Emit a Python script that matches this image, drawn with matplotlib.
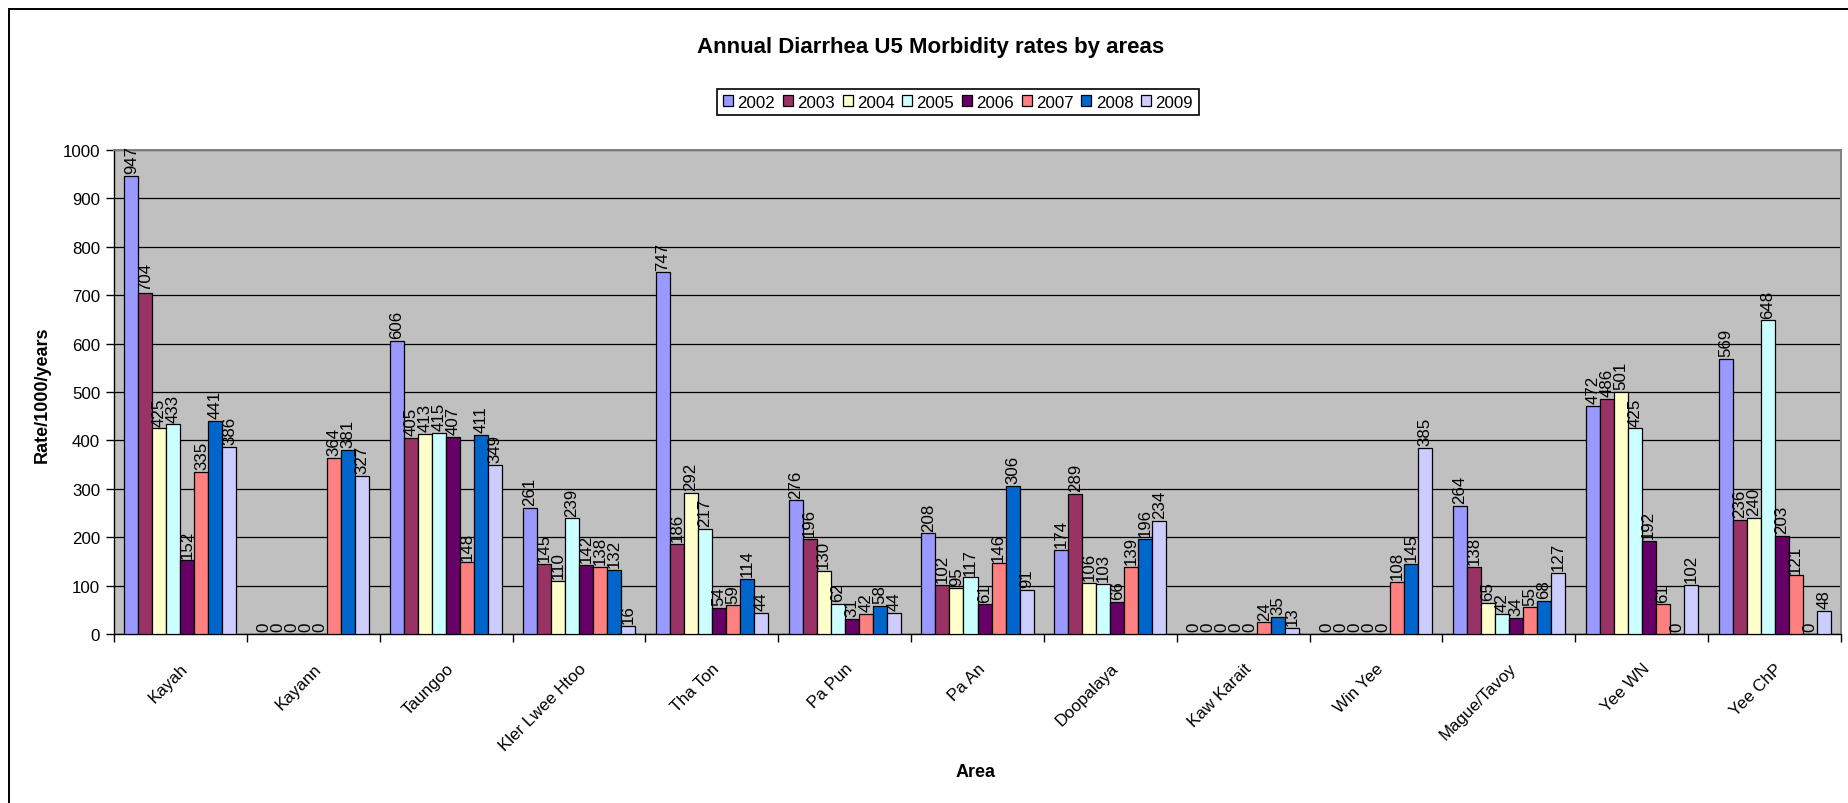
import matplotlib
matplotlib.use("Agg")
import matplotlib.pyplot as plt
from matplotlib.lines import Line2D
from matplotlib.patches import Patch
import numpy as np

plt.rcParams['font.family'] = ['Liberation Sans', 'DejaVu Sans']

areas = ["Kayah", "Kayann", "Taungoo", "Kler Lwee Htoo", "Tha Ton", "Pa Pun",
         "Pa An", "Doopalaya", "Kaw Karait", "Win Yee", "Mague/Tavoy",
         "Yee WN", "Yee ChP"]
years = ["2002", "2003", "2004", "2005", "2006", "2007", "2008", "2009"]

y2002 = [947, 0, 606, 261, 747, 276, 208, 174, 0, 0, 264, 472, 569]
y2003 = [704, 0, 405, 145, 186, 196, 102, 289, 0, 0, 138, 486, 236]
y2004 = [425, 0, 413, 110, 292, 130, 95, 106, 0, 0, 65, 501, 240]
y2005 = [433, 0, 415, 239, 217, 62, 117, 103, 0, 0, 42, 425, 648]
y2006 = [152, 0, 407, 142, 54, 31, 61, 66, 0, 0, 34, 192, 203]
y2007 = [335, 364, 148, 138, 59, 42, 146, 139, 24, 108, 55, 61, 121]
y2008 = [441, 381, 411, 132, 114, 58, 306, 196, 35, 145, 68, 0, 0]
y2009 = [386, 327, 349, 16, 44, 44, 91, 234, 13, 385, 127, 102, 48]

series = [y2002, y2003, y2004, y2005, y2006, y2007, y2008, y2009]
colors = ["#9999FF", "#993366", "#FFFFCC", "#CCFFFF",
          "#660066", "#FF8080", "#0066CC", "#CCCCFF"]

W, H = 1849, 804
fig = plt.figure(figsize=(W / 100, H / 100), dpi=100)

# outer chart frame (left and top edges)
fig.add_artist(Line2D([9.5 / W, 9.5 / W], [0, 1 - 9.5 / H], color="black", lw=1.4))
fig.add_artist(Line2D([9.5 / W, 1], [1 - 9.5 / H, 1 - 9.5 / H], color="black", lw=1.4))

left, right, top, bottom = 114, 1841, 151, 635
ax = fig.add_axes([left / W, 1 - bottom / H, (right - left) / W, (bottom - top) / H])
ax.set_facecolor("#C0C0C0")

x = np.arange(len(areas))
bw = 0.1055
for j, (vals, col) in enumerate(zip(series, colors)):
    pos = x + (j - 3.5) * bw
    ax.bar(pos, vals, width=bw, color=col, edgecolor="black", linewidth=0.9, zorder=3)
    for p, v in zip(pos, vals):
        ax.annotate(str(v), (p, v), xytext=(0, 2), textcoords="offset points",
                    rotation=90, ha="center", va="bottom", fontsize=12.2, zorder=4)

ax.set_xlim(-0.5, len(areas) - 0.5)
ax.set_ylim(0, 1000)
ax.set_yticks(np.arange(0, 1001, 100))
ax.yaxis.grid(True, color="black", lw=0.9, zorder=1)
ax.set_axisbelow(True)
ax.tick_params(axis="y", labelsize=12.2, length=6, width=1, direction="out", pad=4)

ax.set_xticks(x)
ax.set_xticklabels(areas, rotation=45, ha="right", va="top", rotation_mode="anchor",
                   fontsize=12.2)
ax.tick_params(axis="x", length=0, pad=19)
ax.set_xticks(np.arange(0, len(areas) + 1) - 0.5, minor=True)
ax.tick_params(axis="x", which="minor", length=6, width=1, direction="out")

for s in ("top", "right"):
    ax.spines[s].set_color("#808080")
    ax.spines[s].set_linewidth(1.4)
for s in ("left", "bottom"):
    ax.spines[s].set_color("black")
    ax.spines[s].set_linewidth(1.0)

fig.text(931 / W, 1 - 47 / H, "Annual Diarrhea U5 Morbidity rates by areas",
         ha="center", va="center", fontsize=16, fontweight="bold")
fig.text(42 / W, 1 - 395 / H, "Rate/1000/years", rotation=90, ha="center", va="center",
         fontsize=13, fontweight="bold")
fig.text(976 / W, 1 - 773 / H, "Area", ha="center", va="center",
         fontsize=13, fontweight="bold")

handles = [Patch(facecolor=c, edgecolor="black", linewidth=0.9) for c in colors]
leg = fig.legend(handles, years, ncol=8, loc="center",
                 bbox_to_anchor=(958 / W, 1 - 103 / H), fontsize=12.2,
                 handlelength=0.6, handleheight=0.6, handletextpad=0.25,
                 columnspacing=0.45, borderpad=0.35, fancybox=False,
                 edgecolor="black", framealpha=1)
leg.get_frame().set_linewidth(1.2)

fig.savefig("out.png", dpi=100)
